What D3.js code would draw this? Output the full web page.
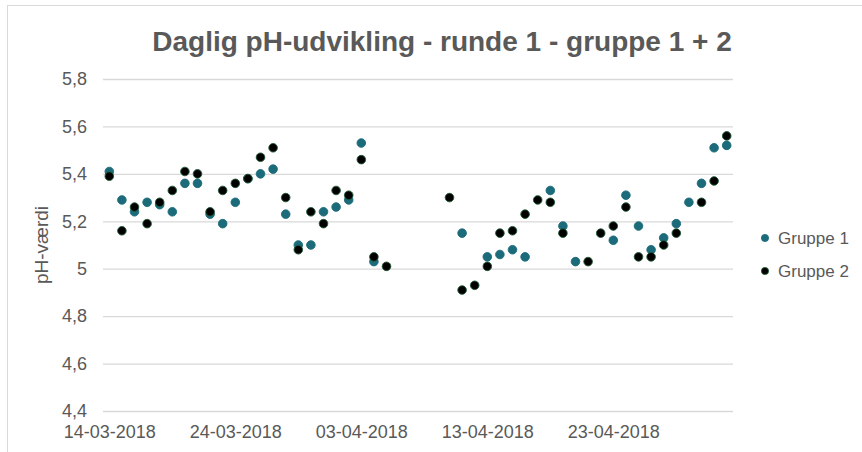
<!DOCTYPE html>
<html>
<head>
<meta charset="utf-8">
<script src="https://cdn.jsdelivr.net/npm/d3@7"></script>
<style>
  body { margin: 0; background: #fff; }
  text { font-family: "Liberation Sans", Arial, sans-serif; fill: #595959; }
</style>
</head>
<body>
<div class="chart"></div>
<script>
// data
const dates = [
  "14-03-2018","15-03-2018","16-03-2018","17-03-2018","18-03-2018","19-03-2018","20-03-2018",
  "21-03-2018","22-03-2018","23-03-2018","24-03-2018","25-03-2018","26-03-2018","27-03-2018",
  "28-03-2018","29-03-2018","30-03-2018","31-03-2018","01-04-2018","02-04-2018","03-04-2018",
  "04-04-2018","05-04-2018",
  "10-04-2018","11-04-2018","12-04-2018","13-04-2018","14-04-2018","15-04-2018","16-04-2018",
  "17-04-2018","18-04-2018","19-04-2018","20-04-2018","21-04-2018","22-04-2018","23-04-2018",
  "24-04-2018","25-04-2018","26-04-2018","27-04-2018","28-04-2018","29-04-2018","30-04-2018",
  "01-05-2018","02-05-2018"
];
const gruppe1 = [
  5.41, 5.29, 5.24, 5.28, 5.27, 5.24, 5.36,
  5.36, 5.23, 5.19, 5.28, 5.38, 5.40, 5.42,
  5.23, 5.10, 5.10, 5.24, 5.26, 5.29, 5.53,
  5.03, null,
  null, 5.15, null, 5.05, 5.06, 5.08, 5.05,
  null, 5.33, 5.18, 5.03, null, null, 5.12,
  5.31, 5.18, 5.08, 5.13, 5.19, 5.28, 5.36,
  5.51, 5.52
];
const gruppe2 = [
  5.39, 5.16, 5.26, 5.19, 5.28, 5.33, 5.41,
  5.40, 5.24, 5.33, 5.36, 5.38, 5.47, 5.51,
  5.30, 5.08, 5.24, 5.19, 5.33, 5.31, 5.46,
  5.05, 5.01,
  5.30, 4.91, 4.93, 5.01, 5.15, 5.16, 5.23,
  5.29, 5.28, 5.15, null, 5.03, 5.15, 5.18,
  5.26, 5.05, 5.05, 5.10, 5.15, null, 5.28,
  5.37, 5.56
];
const seriesNames = ["Gruppe 1", "Gruppe 2"];
const xTickLabels = ["14-03-2018", "24-03-2018", "03-04-2018", "13-04-2018", "23-04-2018"];
const yTicks = [4.4, 4.6, 4.8, 5.0, 5.2, 5.4, 5.6, 5.8];
const axisStart = "14-03-2018", axisEnd = "03-05-2018";

const width = 862, height = 452;
const margin = {top: 79, right: 129, bottom: 41, left: 103};
const colors = ["#1b6b7b", "#000000"];
const strokes = ["#1b6b7b", "#1f5a35"];

const parse = d3.utcParse("%d-%m-%Y");
const mid = d => d3.utcHour.offset(parse(d), 12);   // points sit in the middle of each day

const svg = d3.select(".chart")
    .append("svg")
    .attr("width", width)
    .attr("height", height);

// chart area border (only left/top edges are in view)
svg.append("rect")
    .attr("x", 7.5).attr("y", 5.5)
    .attr("width", 900).attr("height", 500)
    .attr("fill", "none")
    .attr("stroke", "#d9d9d9");

const xScale = d3.scaleUtc()
    .domain([parse(axisStart), parse(axisEnd)])
    .range([margin.left, width - margin.right]);

const yScale = d3.scaleLinear()
    .domain([4.4, 5.8])
    .range([height - margin.bottom, margin.top]);

const fmt = v => String(+v.toFixed(1)).replace(".", ",");

// y axis + gridlines
svg.append("g")
    .attr("transform", `translate(${margin.left},0)`)
    .call(d3.axisLeft(yScale).tickValues(yTicks).tickFormat(fmt)
        .tickSize(-(width - margin.right - margin.left)).tickPadding(16))
    .call(g => g.select(".domain").remove())
    .call(g => g.selectAll("line").attr("stroke", "#d9d9d9").attr("stroke-width", 1.3))
    .call(g => g.selectAll("text").attr("font-size", "18px").attr("fill", "#595959")
        .style("font-family", "'Liberation Sans', Arial, sans-serif"));

// x axis labels
svg.append("g")
    .attr("transform", `translate(0,${height - margin.bottom})`)
    .call(d3.axisBottom(xScale).tickValues(xTickLabels.map(mid))
        .tickFormat(d3.utcFormat("%d-%m-%Y")).tickSize(0).tickPadding(14))
    .call(g => g.select(".domain").remove())
    .call(g => g.selectAll("text").attr("font-size", "18px").attr("fill", "#595959")
        .style("font-family", "'Liberation Sans', Arial, sans-serif"));

// points
[gruppe1, gruppe2].forEach((vals, s) => {
    const pts = dates.map((d, i) => ({date: d, v: vals[i]})).filter(p => p.v != null);
    svg.append("g")
        .selectAll("circle")
        .data(pts)
        .join("circle")
            .attr("cx", p => xScale(mid(p.date)))
            .attr("cy", p => yScale(p.v))
            .attr("r", 4.3)
            .attr("fill", colors[s])
            .attr("stroke", strokes[s])
            .attr("stroke-width", 0.9);
});

// title
svg.append("text")
    .attr("x", 442)
    .attr("y", 51)
    .attr("text-anchor", "middle")
    .attr("font-size", "28px")
    .attr("font-weight", "bold")
    .text("Daglig pH-udvikling - runde 1 - gruppe 1 + 2");

// y label
svg.append("text")
    .attr("transform", "translate(48,245) rotate(-90)")
    .attr("text-anchor", "middle")
    .attr("font-size", "19px")
    .text("pH-værdi");

// legend
const legend = svg.append("g")
    .selectAll("g")
    .data(seriesNames)
    .join("g")
    .attr("transform", (d, i) => `translate(765,${238 + i * 33})`);
legend.append("circle")
    .attr("r", 3.6)
    .attr("fill", (d, i) => colors[i])
    .attr("stroke", (d, i) => strokes[i])
    .attr("stroke-width", 0.8);
legend.append("text")
    .attr("x", 13)
    .attr("dy", "0.35em")
    .attr("font-size", "17px")
    .text(d => d);
</script>
</body>
</html>
